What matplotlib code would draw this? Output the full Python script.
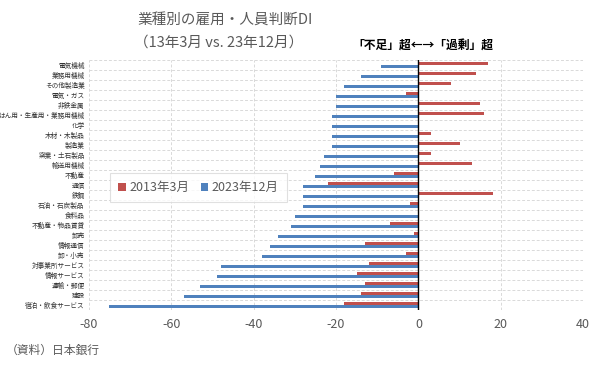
import numpy as np
import matplotlib
matplotlib.use('Agg')
import matplotlib.pyplot as plt

plt.rcParams['font.family'] = ['Noto Sans CJK JP', 'DejaVu Sans']

# categories, top to bottom
categories = ['電気機械', '業務用機械', 'その他製造業', '電気・ガス', '非鉄金属',
              'はん用・生産用・業務用機械', '化学', '木材・木製品', '製造業', '窯業・土石製品',
              '輸送用機械', '不動産', '通信', '鉄鋼', '石油・石炭製品', '食料品',
              '不動産・物品賃貸', '卸売', '情報通信', '卸・小売', '対事業所サービス',
              '情報サービス', '運輸・郵便', '建設', '宿泊・飲食サービス']
di_2013_03 = [17, 14, 8, -3, 15, 16, 0, 3, 10, 3, 13, -6, -22, 18, -2, 0,
              -7, -1, -13, -3, -12, -15, -13, -14, -18]
di_2023_12 = [-9, -14, -18, -20, -20, -21, -21, -21, -21, -23, -24, -25, -28, -28, -28, -30,
              -31, -34, -36, -38, -48, -49, -53, -57, -75]
xticks = [-80, -60, -40, -20, 0, 20, 40]

red = '#C0504D'
blue = '#4F81BD'
grey = '#595959'

fig = plt.figure(figsize=(6, 3.66), dpi=100)
ax = fig.add_axes([0.148, 0.153, 0.824, 0.683])

y = np.arange(len(categories))
h = 0.26
ax.barh(y - 0.15, di_2013_03, height=h, color=red, label='2013年3月', zorder=3)
ax.barh(y + 0.15, di_2023_12, height=h, color=blue, label='2023年12月', zorder=3)

ax.set_xlim(-80, 40)
ax.set_ylim(len(categories) - 0.5, -0.5)
ax.set_xticks(xticks)
ax.set_xticklabels([str(t) for t in xticks], fontsize=9, color=grey)
ax.set_yticks(y)
ax.set_yticklabels(categories, fontsize=4.8, color='#333333')
ax.tick_params(length=0, pad=3)
ax.tick_params(axis='x', pad=6)

# grid: dashed lines between rows and at each x tick
ax.set_yticks(np.arange(-0.5, len(categories), 1), minor=True)
ax.tick_params(which='minor', length=0)
ax.grid(axis='y', which='minor', color='#D9D9D9', linestyle=(0, (3, 2)), linewidth=0.7, zorder=0)
ax.grid(axis='x', which='major', color='#D9D9D9', linestyle=(0, (3, 2)), linewidth=0.7, zorder=0)
for s in ax.spines.values():
    s.set_visible(False)
ax.axvline(0, color='black', linewidth=1.0, zorder=4)

leg = ax.legend(loc='upper left', bbox_to_anchor=(0.043, 0.548), borderaxespad=0,
                ncol=2, fontsize=9, frameon=True, fancybox=False,
                handlelength=0.6, handleheight=0.6, handletextpad=0.3,
                columnspacing=0.9, borderpad=0.65)
leg.get_frame().set_edgecolor('#D9D9D9')
leg.get_frame().set_linewidth(0.8)
leg.set_zorder(5)
for t in leg.get_texts():
    t.set_color(grey)

fig.text(0.375, 0.945, '業種別の雇用・人員判断DI', ha='center', va='center',
         fontsize=10.5, color=grey)
fig.text(0.365, 0.883, '（13年3月 vs. 23年12月）', ha='center', va='center',
         fontsize=10.5, color=grey)
fig.text(0.705, 0.873, '「不足」超←→「過剰」超', ha='center', va='center',
         fontsize=8.5, fontweight='bold', color='black')
fig.text(0.01, 0.042, '（資料）日本銀行', ha='left', va='center', fontsize=8.5, color=grey)

fig.savefig('out.png', dpi=100)
